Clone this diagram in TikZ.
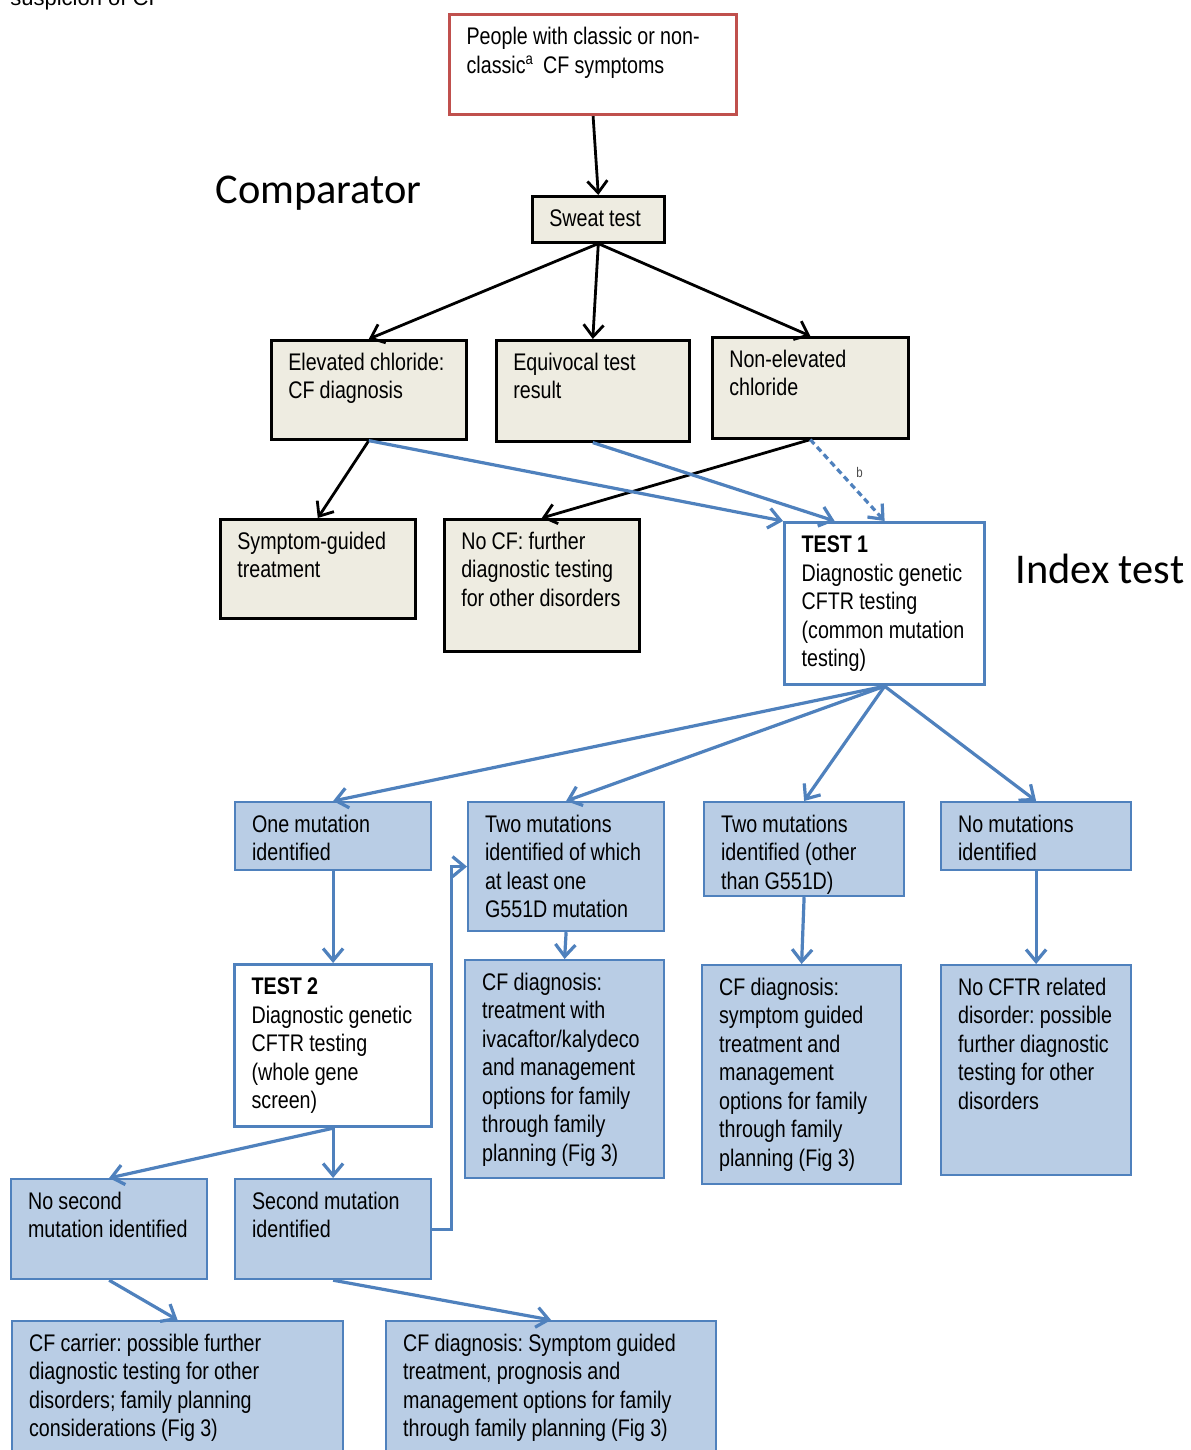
\documentclass[tikz,border=0pt]{standalone}
\usepackage{fontspec}
\setmainfont{Liberation Sans}[FakeStretch=0.82]
\newfontfamily\widefont{Liberation Sans}
\newfontfamily\headfont{Carlito}
\usetikzlibrary{arrows.meta}

\definecolor{tanfill}{HTML}{EEECE1}
\definecolor{lightblue}{HTML}{B9CDE5}
\definecolor{cfblue}{HTML}{4F81BD}
\definecolor{cfred}{HTML}{C0504D}

\newcommand{\cffont}{\fontsize{12pt}{14.25pt}\selectfont}
\frenchspacing
\hyphenpenalty=10000
\exhyphenpenalty=10000

\tikzset{
    box/.style={anchor=north west, align=left, inner xsep=8.5pt, inner ysep=5pt, text height=10pt, font=\cffont,
        execute at begin node={\spaceskip=2.6pt plus 0.5pt minus 0.3pt\relax}},
    tanbox/.style={box, draw=black, fill=tanfill, line width=1.3pt},
    bluebox/.style={box, draw=cfblue, fill=lightblue, line width=1.1pt},
    testbox/.style={box, draw=cfblue, fill=white, line width=1.6pt},
    redbox/.style={box, draw=cfred, fill=white, line width=1.6pt},
    blkarrow/.style={line width=1.4pt, -{Straight Barb[length=6pt,width=10pt]}},
    bluarrow/.style={line width=1.6pt, cfblue, -{Straight Barb[length=6pt,width=10pt]}},
    heading/.style={anchor=base west, inner sep=0pt, font=\headfont\fontsize{21.2pt}{25pt}\selectfont}
}

\begin{document}
\begin{tikzpicture}[x=0.5pt, y=-0.5pt]
        \clip (0,0) rectangle (1190,1450);
        \fill[white] (0,0) rectangle (1190,1450);

        % cut-off caption line
        \node[anchor=base west, inner sep=0pt, font=\widefont\fontsize{11pt}{13pt}\selectfont] (caption) at (10,6) {suspicion of CF};

        % Headings
        \node[heading] (comparator) at (215,203) {Comparator};
        \node[heading] (indextest) at (1015,583) {Index test};

        % Start and sweat test
        \node[redbox, text width=126.5pt, text depth=30pt] (people) at (448,13) {People with classic or non-\\classic\textsuperscript{a}\, CF symptoms};
        \node[tanbox, text width=49pt, text depth=3pt] (sweat) at (531,195) {Sweat test};

        % Sweat test results
        \node[tanbox, text width=80.5pt, text depth=29.5pt] (elev) at (270,339) {Elevated chloride:\\CF diagnosis};
        \node[tanbox, text width=79.5pt, text depth=30.5pt] (equiv) at (495,339) {Equivocal test\\result};
        \node[tanbox, text width=81pt, text depth=30.5pt] (nonelev) at (711,336) {Non-elevated\\chloride};
        \node[tanbox, text width=80.5pt, text depth=29.5pt] (symp) at (219,518) {Symptom-guided\\treatment};
        \node[tanbox, text width=80.5pt, text depth=46pt] (nocf) at (443,518) {No CF: further\\diagnostic testing\\for other disorders};

        % Index test
        \node[testbox, text width=83pt, text depth=61pt] (test1) at (783,521) {\textbf{TEST 1}\\Diagnostic genetic\\CFTR testing\\(common mutation\\testing)};

        % Test 1 results
        \node[bluebox, text width=81pt, text depth=14pt] (one) at (234,801) {One mutation\\identified};
        \node[bluebox, text width=81pt, text depth=44.5pt] (two) at (467,801) {Two mutations\\identified of which\\at least one\\G551D mutation};
        \node[bluebox, text width=83pt, text depth=27pt] (twoo) at (703,801) {Two mutations\\identified (other\\than G551D)};
        \node[bluebox, text width=78pt, text depth=14pt] (nomut) at (940,801) {No mutations\\identified};

        \node[testbox, text width=81.5pt, text depth=61pt] (test2) at (233,963) {\textbf{TEST 2}\\Diagnostic genetic\\CFTR testing\\(whole gene\\screen)};
        \node[bluebox, text width=82.5pt, text depth=89pt] (cfd1) at (464,959) {CF diagnosis:\\treatment with\\ivacaftor/kalydeco\\and management\\options for family\\through family\\planning (Fig 3)};
        \node[bluebox, text width=82.5pt, text depth=89.5pt] (cfd2) at (701,964) {CF diagnosis:\\symptom guided\\treatment and\\management\\options for family\\through family\\planning (Fig 3)};
        \node[bluebox, text width=78pt, text depth=85pt] (nocftr) at (940,964) {No CFTR related\\disorder: possible\\further diagnostic\\testing for other\\disorders};

        % Test 2 results
        \node[bluebox, text width=81pt, text depth=30pt] (nosec) at (10,1178) {No second\\mutation identified};
        \node[bluebox, text width=81pt, text depth=30pt] (secmut) at (234,1178) {Second mutation\\identified};
        \node[bluebox, text width=148.5pt, text depth=55pt] (carrier) at (11,1320) {CF carrier: possible further\\diagnostic testing for other\\disorders; family planning\\considerations (Fig 3)};
        \node[bluebox, text width=148pt, text depth=55pt] (cfd3) at (385,1320) {CF diagnosis: Symptom guided\\treatment, prognosis and\\management options for family\\through family planning (Fig 3)};

        % Comparator arrows
        \draw[blkarrow] (people.south) -- (sweat.north);
        \draw[blkarrow] (sweat.south) -- (elev.north);
        \draw[blkarrow] (sweat.south) -- (equiv.north);
        \draw[blkarrow] (sweat.south) -- (nonelev.north);
        \draw[blkarrow] (elev.south) -- (symp.north);
        \draw[blkarrow] (nonelev.south) -- (nocf.north);

        % Into test 1
        \draw[bluarrow] (elev.south) -- (test1.north west);
        \draw[bluarrow] (equiv.south) -- ([xshift=-25pt]test1.north);
        \draw[bluarrow, dash pattern=on 3pt off 2pt] (nonelev.south) -- node[pos=0.4, right=4pt, text=black!70, font=\fontsize{7pt}{8pt}\selectfont] {b} (test1.north);

        % Test 1 arrows
        \draw[bluarrow] (test1.south) -- (one.north);
        \draw[bluarrow] (test1.south) -- (two.north);
        \draw[bluarrow] (test1.south) -- (twoo.north);
        \draw[bluarrow] (test1.south) -- (nomut.north);
        \draw[bluarrow] (one.south) -- (test2.north);
        \draw[bluarrow] (two.south) -- (cfd1.north);
        \draw[bluarrow] (twoo.south) -- (cfd2.north);
        \draw[bluarrow] (nomut.south) -- (nocftr.north);

        % Test 2 arrows
        \draw[bluarrow] (test2.south) -- (nosec.north);
        \draw[bluarrow] (test2.south) -- (secmut.north);
        \draw[bluarrow] (secmut.east) -- ++(19,0) |- (two.west);
        \draw[bluarrow] (nosec.south) -- (carrier.north);
        \draw[bluarrow] (secmut.south) -- (cfd3.north);
\end{tikzpicture}
\end{document}
